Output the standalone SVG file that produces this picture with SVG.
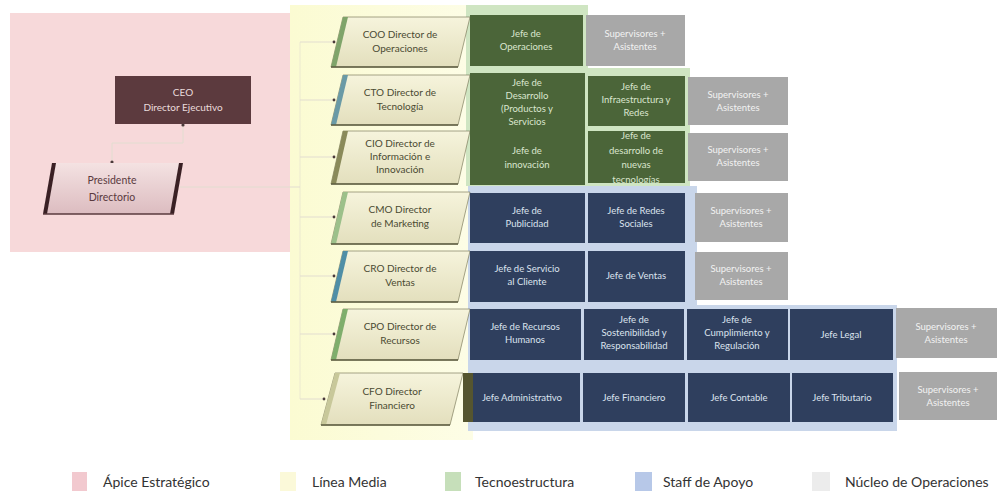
<svg xmlns="http://www.w3.org/2000/svg" width="1001" height="497" viewBox="0 0 1001 497">
<style>
text{font-family:Lato,"Liberation Sans",sans-serif;text-anchor:middle}
.dir{font-size:10px;fill:#4a4a32}
.jg{font-size:9.5px;fill:#dbe6cf}
.jb{font-size:9.5px;fill:#dce3ee}
.sp{font-size:9.5px;fill:#f2f2f2}
.g{fill:#4b6539}
.b{fill:#2f3f5e}
.s{fill:#a8a8a8}
.dp{fill:url(#cream);stroke:#6b6a4a;stroke-width:0.6}
.lg{font-size:14px;fill:#333;text-anchor:start}
.cn{stroke:#e2ddd0;stroke-width:1;fill:none}
</style>
<defs>
<linearGradient id="cream" x1="0" y1="0" x2="0" y2="1">
<stop offset="0" stop-color="#f6f4dc"/><stop offset="1" stop-color="#e3dfbd"/>
</linearGradient>
<linearGradient id="pres" x1="0" y1="0" x2="0" y2="1">
<stop offset="0" stop-color="#f4e2e2"/><stop offset="1" stop-color="#dcbcc0"/>
</linearGradient>
<linearGradient id="yel" x1="0" y1="0" x2="1" y2="0">
<stop offset="0" stop-color="#fbfbd2"/><stop offset="1" stop-color="#fdfde6"/>
</linearGradient>
<clipPath id="c3"><rect x="588" y="131" width="97" height="52"/></clipPath>
</defs>

<g id="regions">
<rect x="10" y="13" width="280" height="239" fill="#f7d9da"/>
<rect x="290" y="5" width="183" height="435" fill="url(#yel)"/>
<polygon points="466,5 588,5 588,68 690,68 690,186 466,186" fill="#cfe5c2"/>
<polygon points="468,186 697,186 697,305 897,305 897,431 468,431" fill="#c9d6ea"/>
</g>

<g id="connectors">
<polyline class="cn" points="183,124 183,143 112,143 112,162"/>
<line class="cn" x1="180" y1="187" x2="300" y2="187"/>
<line class="cn" x1="300" y1="42" x2="300" y2="399" stroke-opacity="0.6"/>
<line class="cn" x1="300" y1="42" x2="334" y2="42"/>
<line class="cn" x1="300" y1="100" x2="334" y2="100"/>
<line class="cn" x1="300" y1="157" x2="334" y2="157"/>
<line class="cn" x1="300" y1="217" x2="334" y2="217"/>
<line class="cn" x1="300" y1="276" x2="334" y2="276"/>
<line class="cn" x1="300" y1="334" x2="334" y2="334"/>
<line class="cn" x1="300" y1="399" x2="324" y2="399"/>
<g fill="#4a3a3a">
<circle cx="183" cy="125" r="1.6"/><circle cx="112" cy="162" r="1.6"/>
<circle cx="334" cy="42" r="1.4"/><circle cx="334" cy="100" r="1.4"/><circle cx="334" cy="157" r="1.4"/>
<circle cx="334" cy="217" r="1.4"/><circle cx="334" cy="276" r="1.4"/><circle cx="334" cy="334" r="1.4"/><circle cx="324" cy="399" r="1.4"/>
</g>
</g>

<g id="ceo">
<rect x="115" y="76" width="136" height="48" fill="#5c3a3e"/>
<text x="183" y="96" font-size="10" fill="#eadcdc">CEO</text>
<text x="183" y="111" font-size="10" fill="#eadcdc">Director Ejecutivo</text>
</g>

<g id="presidente">
<polygon points="43,214 52,163 183,163 174,214" fill="url(#pres)"/>
<polygon points="43,214 52,163 56,163 47,214" fill="#3a2024"/>
<polygon points="170,214 179,163 183,163 174,214" fill="#3a2024"/>
<line x1="43" y1="214" x2="174" y2="214" stroke="#5a3a3e" stroke-width="1.5"/>
<text x="112" y="184" font-size="10.5" fill="#5a3a3e">Presidente</text>
<text x="112" y="201" font-size="10.5" fill="#5a3a3e">Directorio</text>
</g>

<g id="coo">
<polygon class="dp" points="331,67 343,17 470,17 458,67"/>
<polygon points="331,67 343,17 348,17 336,67" fill="#7fa46a"/>
<line x1="331" y1="67" x2="458" y2="67" stroke="#5d5c40" stroke-width="1.5"/>
<text class="dir" x="400" y="38">COO Director de</text>
<text class="dir" x="400" y="52">Operaciones</text>
</g>
<g id="cto">
<polygon class="dp" points="331,125 343,75 470,75 458,125"/>
<polygon points="331,125 343,75 348,75 336,125" fill="#6a9aa6"/>
<line x1="331" y1="125" x2="458" y2="125" stroke="#5d5c40" stroke-width="1.5"/>
<text class="dir" x="400" y="96">CTO Director de</text>
<text class="dir" x="400" y="110">Tecnología</text>
</g>
<g id="cio">
<polygon class="dp" points="331,184 343,131 470,131 458,184"/>
<polygon points="331,184 343,131 348,131 336,184" fill="#8a8a5a"/>
<line x1="331" y1="184" x2="458" y2="184" stroke="#5d5c40" stroke-width="1.5"/>
<text class="dir" x="400" y="147">CIO Director de</text>
<text class="dir" x="400" y="160">Información e</text>
<text class="dir" x="400" y="173">Innovación</text>
</g>
<g id="cmo">
<polygon class="dp" points="331,244 343,192 470,192 458,244"/>
<polygon points="331,244 343,192 348,192 336,244" fill="#9cc08a"/>
<line x1="331" y1="244" x2="458" y2="244" stroke="#5d5c40" stroke-width="1.5"/>
<text class="dir" x="400" y="213">CMO Director</text>
<text class="dir" x="400" y="227">de Marketing</text>
</g>
<g id="cro">
<polygon class="dp" points="331,302 343,251 470,251 458,302"/>
<polygon points="331,302 343,251 348,251 336,302" fill="#4f8ea6"/>
<line x1="331" y1="302" x2="458" y2="302" stroke="#5d5c40" stroke-width="1.5"/>
<text class="dir" x="400" y="272">CRO Director de</text>
<text class="dir" x="400" y="286">Ventas</text>
</g>
<g id="cpo">
<polygon class="dp" points="331,360 343,309 470,309 458,360"/>
<polygon points="331,360 343,309 348,309 336,360" fill="#7fae6c"/>
<line x1="331" y1="360" x2="458" y2="360" stroke="#5d5c40" stroke-width="1.5"/>
<text class="dir" x="400" y="330">CPO Director de</text>
<text class="dir" x="400" y="344">Recursos</text>
</g>
<g id="cfo">
<polygon class="dp" points="321,425 335,373 463,373 450,425"/>
<polygon points="321,425 335,373 340,373 326,425" fill="#c8c89a"/>
<line x1="321" y1="425" x2="450" y2="425" stroke="#5d5c40" stroke-width="1.5"/>
<text class="dir" x="392" y="395">CFO Director</text>
<text class="dir" x="392" y="409">Financiero</text>
</g>

<g id="jefe-operaciones"><rect class="g" x="470" y="15" width="113" height="51"/>
<text class="jg" x="526" y="37">Jefe de</text><text class="jg" x="526" y="50">Operaciones</text></g>
<g id="sup-1"><rect class="s" x="586" y="15" width="99" height="51"/>
<text class="sp" x="635" y="37">Supervisores +</text><text class="sp" x="635" y="50">Asistentes</text></g>

<g id="jefe-desarrollo-innovacion"><rect class="g" x="470" y="73" width="115" height="112"/>
<text class="jg" x="527" y="86">Jefe de</text><text class="jg" x="527" y="99">Desarrollo</text>
<text class="jg" x="527" y="112">(Productos y</text><text class="jg" x="527" y="125">Servicios</text>
<text class="jg" x="527" y="154">Jefe de</text><text class="jg" x="527" y="168">innovación</text></g>
<g id="jefe-infraestructura"><rect class="g" x="588" y="76" width="97" height="50"/>
<text class="jg" x="636" y="90">Jefe de</text><text class="jg" x="636" y="103">Infraestructura y</text><text class="jg" x="636" y="116">Redes</text></g>
<g id="sup-2"><rect class="s" x="688" y="77" width="100" height="48"/>
<text class="sp" x="738" y="98">Supervisores +</text><text class="sp" x="738" y="111">Asistentes</text></g>
<g id="jefe-nuevas-tecnologias" clip-path="url(#c3)"><rect class="g" x="588" y="131" width="97" height="52"/>
<text class="jg" x="636" y="139">Jefe de</text><text class="jg" x="636" y="154">desarrollo de</text>
<text class="jg" x="636" y="168">nuevas</text><text class="jg" x="636" y="183">tecnologías</text></g>
<g id="sup-3"><rect class="s" x="688" y="133" width="100" height="48"/>
<text class="sp" x="738" y="153">Supervisores +</text><text class="sp" x="738" y="166">Asistentes</text></g>

<g id="jefe-publicidad"><rect class="b" x="470" y="193" width="115" height="50"/>
<text class="jb" x="527" y="214">Jefe de</text><text class="jb" x="527" y="227">Publicidad</text></g>
<g id="jefe-redes-sociales"><rect class="b" x="588" y="193" width="97" height="50"/>
<text class="jb" x="636" y="214">Jefe de Redes</text><text class="jb" x="636" y="227">Sociales</text></g>
<g id="sup-4"><rect class="s" x="695" y="193" width="93" height="49"/>
<text class="sp" x="741" y="214">Supervisores +</text><text class="sp" x="741" y="227">Asistentes</text></g>

<g id="jefe-servicio-cliente"><rect class="b" x="470" y="251" width="115" height="51"/>
<text class="jb" x="527" y="272">Jefe de Servicio</text><text class="jb" x="527" y="285">al Cliente</text></g>
<g id="jefe-ventas"><rect class="b" x="588" y="251" width="97" height="51"/>
<text class="jb" x="636" y="279">Jefe de Ventas</text></g>
<g id="sup-5"><rect class="s" x="695" y="252" width="93" height="48"/>
<text class="sp" x="741" y="272">Supervisores +</text><text class="sp" x="741" y="285">Asistentes</text></g>

<g id="jefe-rrhh"><rect class="b" x="470" y="309" width="111" height="51"/>
<text class="jb" x="525" y="330">Jefe de Recursos</text><text class="jb" x="525" y="343">Humanos</text></g>
<g id="jefe-sostenibilidad"><rect class="b" x="584" y="309" width="100" height="51"/>
<text class="jb" x="634" y="323">Jefe de</text><text class="jb" x="634" y="336">Sostenibilidad y</text><text class="jb" x="634" y="349">Responsabilidad</text></g>
<g id="jefe-cumplimiento"><rect class="b" x="687" y="309" width="101" height="51"/>
<text class="jb" x="737" y="323">Jefe de</text><text class="jb" x="737" y="336">Cumplimiento y</text><text class="jb" x="737" y="349">Regulación</text></g>
<g id="jefe-legal"><rect class="b" x="790" y="309" width="103" height="51"/>
<text class="jb" x="841" y="338">Jefe Legal</text></g>
<g id="sup-6"><rect class="s" x="896" y="308" width="101" height="50"/>
<text class="sp" x="946" y="330">Supervisores +</text><text class="sp" x="946" y="343">Asistentes</text></g>

<g id="jefe-administrativo"><rect class="b" x="463" y="373" width="117" height="49"/>
<rect x="463" y="373" width="10" height="49" fill="#55552f"/>
<text class="jb" x="522" y="401">Jefe Administrativo</text></g>
<g id="jefe-financiero"><rect class="b" x="583" y="373" width="102" height="49"/>
<text class="jb" x="634" y="401">Jefe Financiero</text></g>
<g id="jefe-contable"><rect class="b" x="688" y="373" width="102" height="49"/>
<text class="jb" x="739" y="401">Jefe Contable</text></g>
<g id="jefe-tributario"><rect class="b" x="792" y="373" width="101" height="49"/>
<text class="jb" x="842" y="401">Jefe Tributario</text></g>
<g id="sup-7"><rect class="s" x="899" y="372" width="98" height="48"/>
<text class="sp" x="948" y="393">Supervisores +</text><text class="sp" x="948" y="406">Asistentes</text></g>

<g id="legend">
<rect x="72" y="472" width="15" height="19" fill="#f2c9cf"/>
<text class="lg" x="103" y="487">Ápice Estratégico</text>
<rect x="280" y="472" width="16" height="19" fill="#fbf9d9"/>
<text class="lg" x="312" y="487">Línea Media</text>
<rect x="445" y="472" width="16" height="19" fill="#c6dfba"/>
<text class="lg" x="475" y="487">Tecnoestructura</text>
<rect x="635" y="472" width="17" height="19" fill="#b7c8e8"/>
<text class="lg" x="663" y="487">Staff de Apoyo</text>
<rect x="812" y="472" width="18" height="19" fill="#ececec"/>
<text class="lg" x="845" y="487">Núcleo de Operaciones</text>
</g>
</svg>
